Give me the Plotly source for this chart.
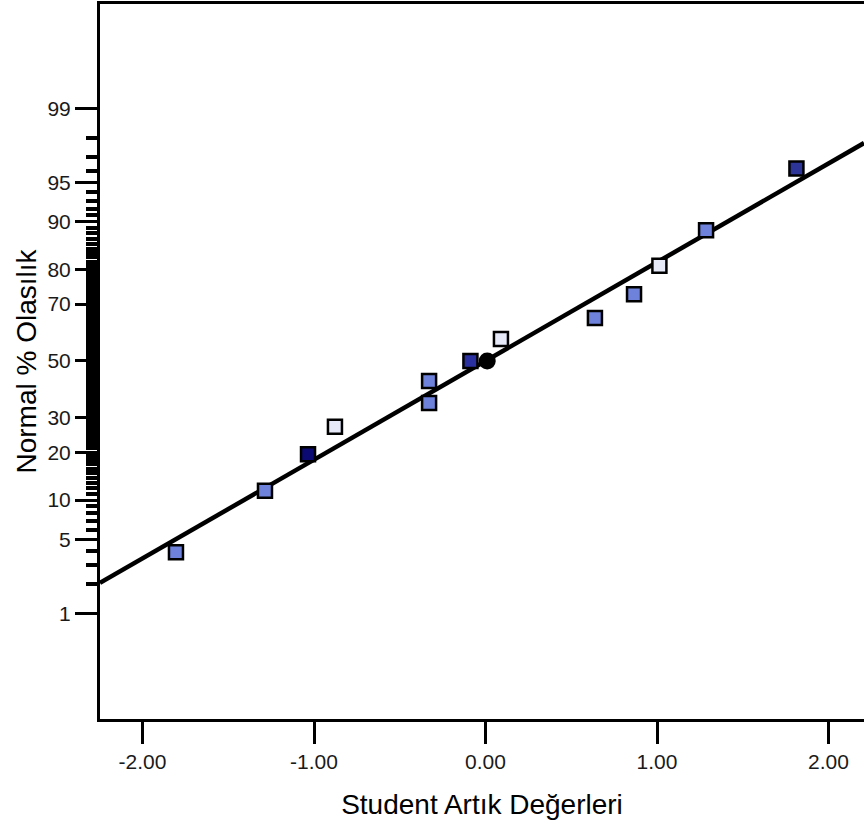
from statistics import NormalDist
import plotly.graph_objects as go

# ---- data ----
residuals = [-1.805, -1.286, -1.035, -0.878, -0.329, -0.329, -0.088, 0.090, 0.638, 0.866, 1.014, 1.286, 1.813]
percents = [3.9, 11.6, 19.5, 27.2, 34.9, 42.7, 50.0, 58.0, 65.4, 73.1, 81.0, 88.6, 96.2]
point_colors = ["#6e82dc", "#6e82dc", "#0a0a72", "#e6eaf8", "#6e82dc", "#6e82dc", "#2a30a0",
                "#e6eaf8", "#6e82dc", "#6e82dc", "#e6eaf8", "#6e82dc", "#2d3599"]
selected_residual = [0.01]
selected_percent = [50.0]

fit_slope = 0.91      # z per studentized residual
fit_intercept = 0.0
x_range = [-2.248, 2.207]

major_pct = [1, 5, 10, 20, 30, 50, 70, 80, 90, 95, 99]
minor_pct = [p for p in range(2, 99) if p not in major_pct]
x_tick_vals = [-2, -1, 0, 1, 2]
x_tick_text = ["-2.00", "-1.00", "0.00", "1.00", "2.00"]

nd = NormalDist()
def z(p):
    return nd.inv_cdf(p / 100.0)

fig = go.Figure()

line_x = x_range
line_z = [fit_intercept + fit_slope * v for v in line_x]
fig.add_trace(go.Scatter(x=line_x, y=line_z, mode="lines",
                         line=dict(color="black", width=4.5), hoverinfo="skip",
                         showlegend=False))

fig.add_trace(go.Scatter(x=residuals, y=[z(p) for p in percents], mode="markers",
                         marker=dict(symbol="square", size=14, color=point_colors,
                                     line=dict(color="black", width=2.5)),
                         showlegend=False))

fig.add_trace(go.Scatter(x=selected_residual, y=[z(p) for p in selected_percent], mode="markers",
                         marker=dict(symbol="circle", size=17, color="black"),
                         showlegend=False))

font_family = "Liberation Sans, Arial, sans-serif"

fig.update_layout(
    width=864, height=827,
    margin=dict(l=100, r=0, t=4, b=108),
    paper_bgcolor="white", plot_bgcolor="white",
    font=dict(family=font_family, color="#111111"),
    xaxis=dict(
        range=x_range, showgrid=False, zeroline=False,
        showline=True, linecolor="black", linewidth=3, mirror=True,
        ticks="outside", ticklen=22, tickwidth=3, tickcolor="black",
        tickvals=x_tick_vals, ticktext=x_tick_text,
        tickfont=dict(size=21, color="#1a1a1a"),
        title=dict(text="Student Artık Değerleri", font=dict(size=28, color="black"), standoff=23),
        automargin=False,
    ),
    yaxis=dict(
        range=[-3.30, 3.29], showgrid=False, zeroline=False,
        showline=True, linecolor="black", linewidth=3, mirror=False,
        ticks="outside", ticklen=22, tickwidth=3, tickcolor="black",
        tickvals=[z(p) for p in major_pct], ticktext=[str(p) for p in major_pct],
        tickfont=dict(size=21, color="#1a1a1a"),
        minor=dict(tickmode="array", tickvals=[z(p) for p in minor_pct],
                   ticks="outside", ticklen=11, tickwidth=3.6, tickcolor="black", showgrid=False),
        title=dict(text="Normal % Olasılık", font=dict(size=28, color="black"), standoff=3),
        automargin=False,
    ),
)

fig.write_html("out.html", config={"displayModeBar": False},
               post_script="document.body.style.margin='0px';")
